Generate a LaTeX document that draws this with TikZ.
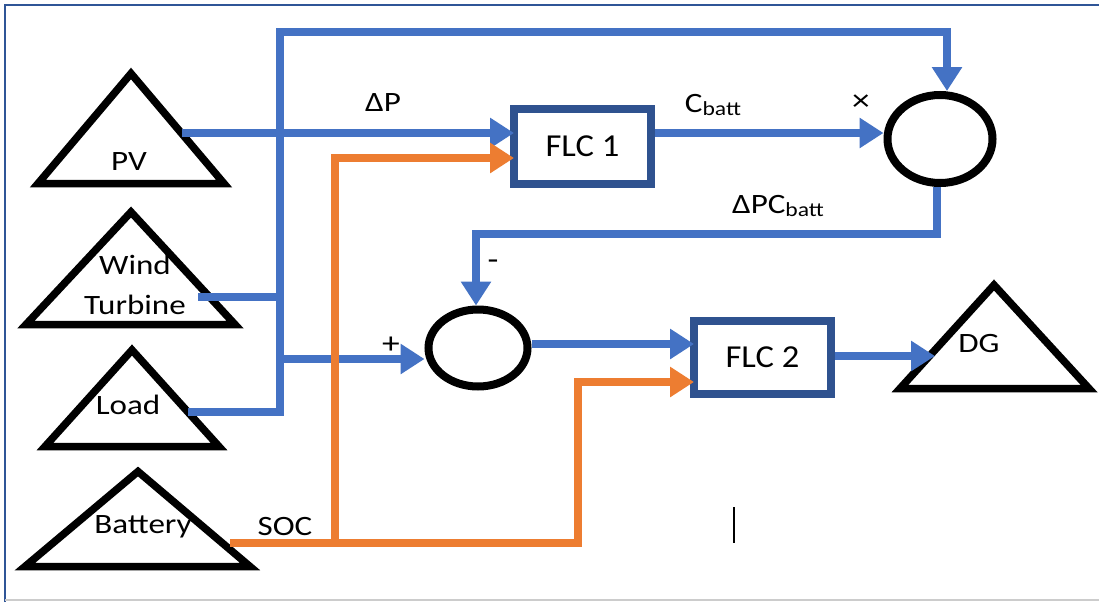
\documentclass[tikz,border=0pt]{standalone}
\usepackage{fontspec}
\setmainfont{Carlito}[FakeStretch=1.18]
\newfontfamily\flcfont{Carlito}[FakeStretch=1.08]
\usetikzlibrary{arrows.meta,shapes.geometric}
\definecolor{lblue}{HTML}{4472C4}
\definecolor{lorange}{HTML}{ED7D31}
\definecolor{dblue}{HTML}{2F528F}
\definecolor{frameblue}{HTML}{2F5597}
\begin{document}
\begin{tikzpicture}[x=1pt,y=-1pt,
  wire/.style={line width=8pt,draw=lblue,line join=miter},
  owire/.style={line width=8pt,draw=lorange,line join=miter},
  arr/.style={-{Triangle[length=24pt,width=29pt]}},
  tri/.style={line width=7.5pt,draw=black,line join=miter},
  flc/.style={draw=dblue,line width=8pt,minimum width=137pt,minimum height=75pt,inner sep=0pt,outer sep=0pt,font=\flcfont\fontsize{32}{34}\selectfont},
  summer/.style={ellipse,draw=black,line width=8pt,inner sep=0pt},
  lbl/.style={font=\fontsize{28}{30}\selectfont,inner sep=0pt},
  sgn/.style={font=\fontsize{30}{32}\selectfont,inner sep=0pt}]
\useasboundingbox (0,0) rectangle (1099,602);
\fill[white] (0,0) rectangle (1099,602);
% frame
\draw[frameblue,line width=1.6pt] (5,602) -- (5,5) -- (1099,5);
\draw[black!20,line width=1.4pt] (5,600) -- (1099,600);

% triangles
\draw[tri] (38,183.5) -- (224,183.5) -- (131,73.5) -- cycle;
\draw[tri] (26,324.5) -- (235,324.5) -- (131,212) -- cycle;
\draw[tri] (45,446.5) -- (219,446.5) -- (132,350) -- cycle;
\draw[tri] (25,566.5) -- (250,566.5) -- (138,471.5) -- cycle;
\draw[tri] (900,388.5) -- (1089,388.5) -- (994,285) -- cycle;

% triangle labels
\node[lbl] (pvt) at (129,162) {PV};
\node[lbl] (wt1) at (135,265) {Wind};
\node[lbl] (wt2) at (135,305) {Turbine};
\node[lbl] (ldt) at (128,405) {Load};
\node[lbl] (btt) at (143,527) {Battery};
\node[lbl] (dgt) at (979,344) {DG};

% blocks
\node[flc] (F1) at (582.5,146.5) {FLC 1};
\node[flc,minimum height=73pt] (F2) at (762.5,357.5) {FLC 2};
\node[summer,minimum width=105pt,minimum height=88pt] (C1) at (940,139) {};
\node[summer,minimum width=99pt,minimum height=77pt] (C2) at (478,348) {};

% coordinates
\coordinate (pvo) at (182,133);
\coordinate (wto) at (198,297);
\coordinate (ldo) at (188,412);
\coordinate (busb) at (280,412);
\coordinate (bust) at (280,32);
\coordinate (topr) at (947,32);
\coordinate (pj) at (280,359);
\coordinate (fbr) at (937,234);
\coordinate (fbl) at (476,234);
\coordinate (c2o) at (532,344);
\coordinate (dgi) at (935,356);
\coordinate (bo) at (230,543);
\coordinate (o1) at (335,158);
\coordinate (o2) at (578,382);

% blue connectors
\draw[wire,arr] (ldo) -- (busb) -- (bust) -- (topr) -- (C1.north -| topr);
\draw[wire] (wto) -- (wto -| bust);
\draw[wire,arr] (pvo) -- (pvo -| F1.west);
\draw[wire,arr] (pj) -- (pj -| C2.west);
\draw[wire,arr] ([xshift=4pt]F1.east |- pvo) -- (pvo -| C1.west);
\draw[wire,arr] (C1.south -| fbr) -- (fbr) -- (fbl) -- (C2.north -| fbl);
\draw[wire,arr] (c2o) -- (c2o -| F2.west);
\draw[wire,arr] ([xshift=4pt]F2.east |- dgi) -- (dgi);

% orange connectors
\draw[owire,arr] (bo) -- (o2 |- bo) -- (o2) -- (o2 -| F2.west);
\draw[owire,arr] (o1 |- bo) -- (o1) -- (o1 -| F1.west);

% connector labels
\node[lbl] (dp) at (383,103) {ΔP};
\node[lbl] (cb) at (713,105) {C{\fontsize{20}{20}\selectfont\raisebox{-3pt}{batt}}};
\node[lbl] (dpcb) at (778,206) {ΔPC{\fontsize{20}{20}\selectfont\raisebox{-3pt}{batt}}};
\node[sgn] (mul) at (861,103) {×};
\node[sgn] (minus) at (493,265) {-};
\node[sgn] (plus) at (391,345) {+};
\node[lbl] (soc) at (285,527) {SOC};

% text cursor
\draw[black,line width=1.3pt] (734,507) -- (734,543);
\end{tikzpicture}
\end{document}
